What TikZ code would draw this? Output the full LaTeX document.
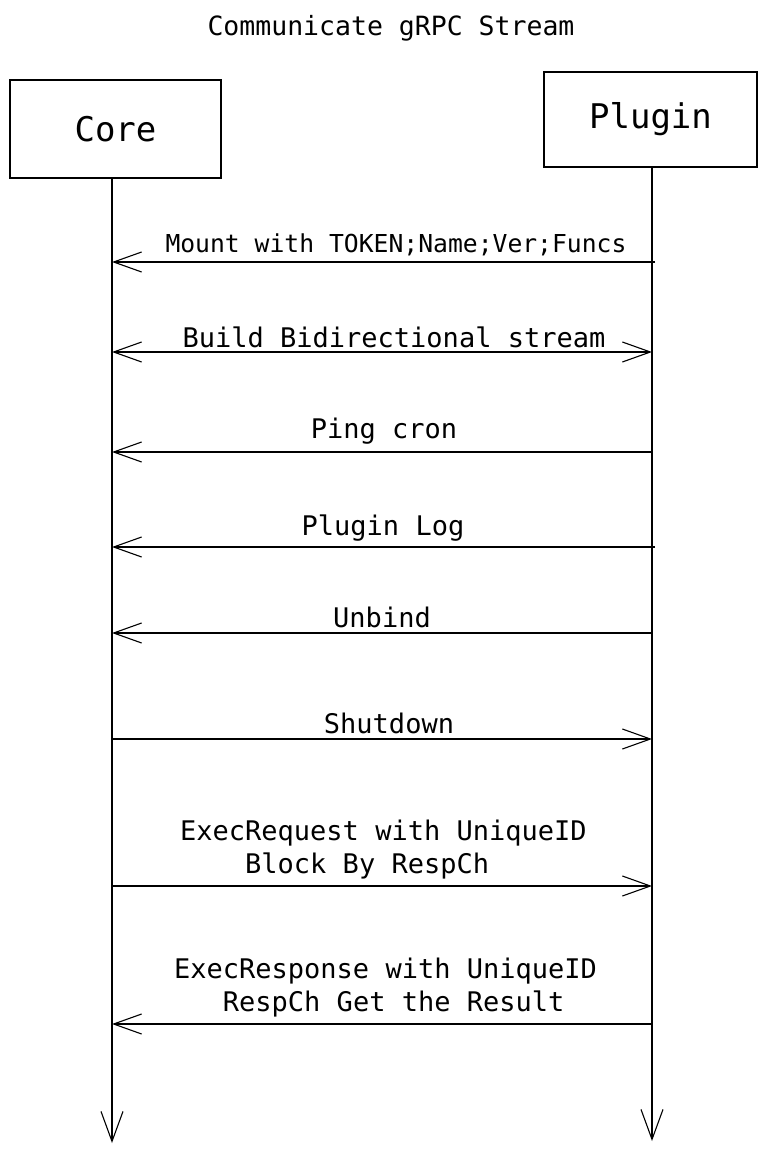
\documentclass[tikz,border=0pt]{standalone}
\usepackage{fontspec}
\setmonofont{DejaVu Sans Mono}
\usetikzlibrary{arrows.meta}
\tikzset{
  actor/.style={draw, line width=1.3pt, inner sep=0pt, font=\ttfamily\fontsize{34}{40}\selectfont},
  life/.style={draw, line width=1.2pt, -{Straight Barb[length=30pt,width=22pt,line width=1.1pt]}},
  msg/.style={line width=1.2pt, -{Straight Barb[length=28pt,width=20pt,line width=1.1pt]}},
  bimsg/.style={line width=1.2pt, {Straight Barb[length=28pt,width=20pt,line width=1.1pt]}-{Straight Barb[length=28pt,width=20pt,line width=1.1pt]}},
  lbl/.style={font=\ttfamily\fontsize{27}{33}\selectfont, inner sep=0pt},
  lblsm/.style={font=\ttfamily\fontsize{24.7}{30}\selectfont, inner sep=0pt},
}
\begin{document}
\begin{tikzpicture}[x=1pt,y=-1pt]
\useasboundingbox (0,0) rectangle (766,1153);
\node[font=\ttfamily\fontsize{26.5}{32}\selectfont, inner sep=0pt] (title) at (391,28) {Communicate gRPC Stream};
\node[actor, minimum width=211pt, minimum height=98pt] (core) at (115.5,129) {Core};
\node[actor, minimum width=213pt, minimum height=95pt] (plugin) at (650.5,119.5) {Plugin};
\coordinate (cEnd) at (112,1143);
\coordinate (pEnd) at (652,1141);
\draw[life] (core.south -| cEnd) -- (cEnd);
\draw[life] (plugin.south -| pEnd) -- (pEnd);
% messages
\coordinate (c1) at (112,262); \coordinate (p1) at (655,262);
\draw[msg] (p1) -- (c1);
\node[lblsm] (t1) at (396,245) {Mount with TOKEN;Name;Ver;Funcs};
\coordinate (c2) at (112,352); \coordinate (p2) at (652,352);
\draw[bimsg] (c2) -- (p2);
\node[lbl] (t2) at (394,337) {Build Bidirectional stream};
\coordinate (c3) at (112,452); \coordinate (p3) at (652,452);
\draw[msg] (p3) -- (c3);
\node[lbl] (t3) at (384,431) {Ping cron};
\coordinate (c4) at (112,547); \coordinate (p4) at (655,547);
\draw[msg] (p4) -- (c4);
\node[lbl] (t4) at (383,528) {Plugin Log};
\coordinate (c5) at (112,633); \coordinate (p5) at (652,633);
\draw[msg] (p5) -- (c5);
\node[lbl] (t5) at (382,617) {Unbind};
\coordinate (c6) at (112,739); \coordinate (p6) at (652,739);
\draw[msg] (c6) -- (p6);
\node[lbl] (t6) at (389,723) {Shutdown};
\coordinate (c7) at (112,886); \coordinate (p7) at (652,886);
\draw[msg] (c7) -- (p7);
\node[lbl, align=left, anchor=north west] (t7) at (180,820) {ExecRequest with UniqueID\\\phantom{xxxx}Block By RespCh};
\coordinate (c8) at (112,1024); \coordinate (p8) at (652,1024);
\draw[msg] (p8) -- (c8);
\node[lbl, align=left, anchor=north west] (t8) at (174,958) {ExecResponse with UniqueID\\\phantom{xxx}RespCh Get the Result};
\end{tikzpicture}
\end{document}
